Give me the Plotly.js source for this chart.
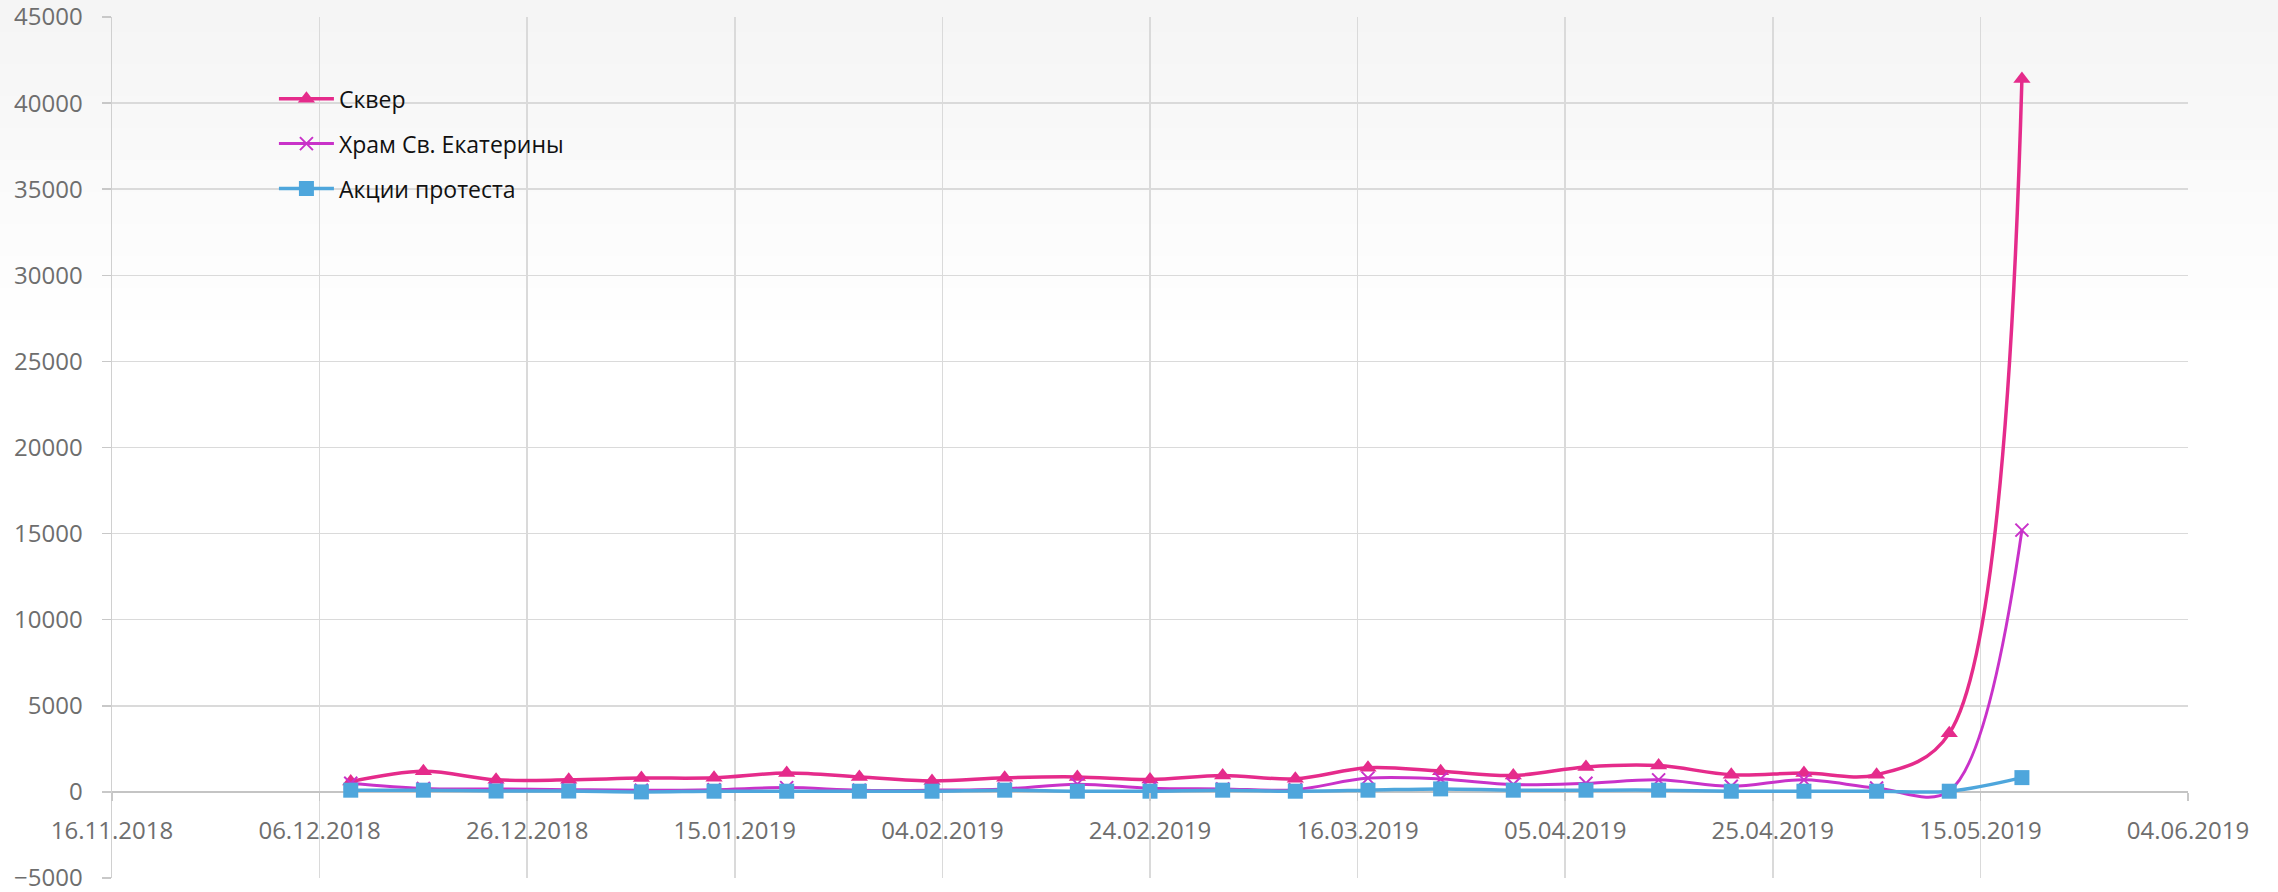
<!DOCTYPE html>
<html>
<head>
<meta charset="utf-8">
<script src="https://cdn.plot.ly/plotly-3.0.1.min.js"></script>
<style>html,body{margin:0;padding:0;background:#fff;}#chart{width:2278px;height:892px;}</style>
</head>
<body>
<div id="chart"></div>
<script>
const dates = ["2018-12-09","2018-12-16","2018-12-23","2018-12-30","2019-01-06","2019-01-13","2019-01-20","2019-01-27","2019-02-03","2019-02-10","2019-02-17","2019-02-24","2019-03-03","2019-03-10","2019-03-17","2019-03-24","2019-03-31","2019-04-07","2019-04-14","2019-04-21","2019-04-28","2019-05-05","2019-05-12","2019-05-19"];
const skver = [600,1200,700,700,800,820,1100,870,640,820,870,720,950,760,1400,1200,950,1450,1530,1000,1100,1000,3400,41400];
const hram  = [500,200,170,130,100,130,250,100,100,175,450,210,175,130,800,750,430,500,700,330,700,230,50,15200];
const akcii = [100,100,50,50,0,40,40,40,40,100,40,40,100,40,100,175,100,100,100,40,40,40,40,830];
const seriesNames = ["Сквер","Храм Св. Екатерины","Акции протеста"];

const FONT = "Open Sans, Noto Sans, sans-serif";
const traces = [
  {x:dates, y:skver, name:seriesNames[0], legendgroup:"a", type:"scatter", mode:"lines+markers",
   line:{color:"#e52b8b", width:3.5, shape:"spline", smoothing:1},
   marker:{symbol:"triangle-up", size:15, color:"#e52b8b"}},
  {x:dates, y:hram, name:seriesNames[1], legendgroup:"b", type:"scatter", mode:"lines+markers",
   line:{color:"#c932c9", width:3, shape:"spline", smoothing:1},
   marker:{symbol:"x-thin", size:13, color:"#c932c9", line:{color:"#c932c9", width:2}}},
  {x:dates, y:akcii, name:seriesNames[2], legendgroup:"c", type:"scatter", mode:"lines+markers",
   line:{color:"#4ea6dc", width:3.5, shape:"spline", smoothing:1},
   marker:{symbol:"square", size:15, color:"#4ea6dc"}}
];

// subtle top gradient of the background
const shapes = [];
const plotTop = 17, plotBottom = 878, plotH = plotBottom - plotTop;
for (let k = 1; k <= 10; k++) {
  const bottomPx = 32 * k;
  shapes.push({type:"rect", xref:"paper", yref:"paper", layer:"below",
    x0:-0.06, x1:1.05, y0:(plotBottom - bottomPx)/plotH, y1:(plotBottom)/plotH + 0.001,
    fillcolor:"rgba(0,0,0,0.0024)", line:{width:0}});
}

const layout = {
  width:2278, height:892,
  margin:{l:112, r:90, t:17, b:14},
  paper_bgcolor:"#ffffff", plot_bgcolor:"rgba(0,0,0,0)",
  font:{family:FONT, size:22, color:"#707070"},
  showlegend:true,
  legend:{x:0.078, y:0.93, xanchor:"left", yanchor:"top", bgcolor:"rgba(0,0,0,0)",
    font:{family:FONT, size:23, color:"#111111"}, tracegroupgap:12, itemwidth:55},
  xaxis:{type:"date", range:["2018-11-16","2019-06-04"], tick0:"2018-11-16", dtick:20*86400000,
    tickformat:"%d.%m.%Y", showgrid:true, gridcolor:"#dadada", gridwidth:1.5,
    anchor:"free", position:0.1, showline:false, zeroline:false,
    ticks:"outside", ticklen:8, tickcolor:"#c8c8c8", tickwidth:1.5, ticklabeloverflow:"allow",
    tickfont:{family:FONT, size:24, color:"#6e6e6e"}, ticklabelstandoff:9},
  yaxis:{range:[-5000,45000], dtick:5000, tick0:0, tickformat:"d",
    showgrid:true, gridcolor:"#dadada", gridwidth:1.5,
    zeroline:true, zerolinecolor:"#c4c4c4", zerolinewidth:2.5,
    showline:true, linecolor:"#d0d0d0", linewidth:1.5,
    ticks:"outside", ticklen:9, tickcolor:"#c8c8c8", tickwidth:1.5, ticklabeloverflow:"allow",
    tickfont:{family:FONT, size:24, color:"#6e6e6e"}, ticklabelstandoff:14},
  shapes:shapes
};

Plotly.newPlot("chart", traces, layout, {staticPlot:true, displayModeBar:false});
</script>
</body>
</html>
